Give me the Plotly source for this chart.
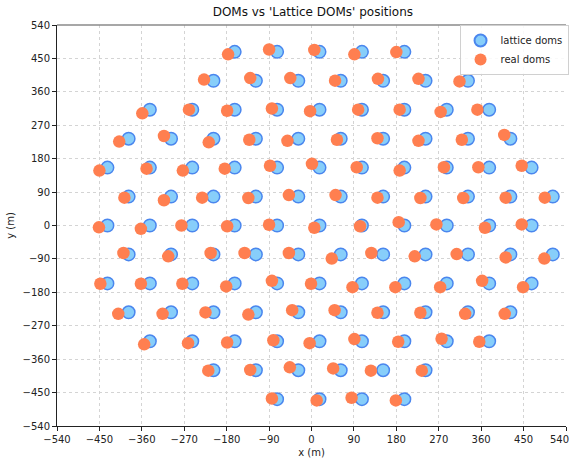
import plotly.graph_objects as go

# Lattice DOM positions, row by row (metres)
lattice_x = [
    -163, -73, 17, 107, 197,
    -208, -118, -28, 62, 152, 242, 332,
    -343, -253, -163, -73, 17, 107, 197, 287, 377,
    -388, -298, -208, -118, -28, 62, 152, 242, 332, 422,
    -433, -343, -253, -163, -73, 17, 107, 197, 287, 377, 467,
    -388, -298, -208, -118, -28, 62, 152, 242, 332, 422, 512,
    -433, -343, -253, -163, -73, 17, 107, 197, 287, 377, 467,
    -388, -298, -208, -118, -28, 62, 152, 242, 332, 422, 512,
    -433, -343, -253, -163, -73, 17, 107, 197, 287, 377, 467,
    -388, -298, -208, -118, -28, 62, 152, 242, 332, 422,
    -343, -253, -163, -73, 17, 107, 197, 287, 377,
    -208, -118, -28, 62, 152, 242,
    -73, 17, 107, 197,
]
lattice_y = (
    [467.7] * 5 + [389.7] * 7 + [311.8] * 9 + [233.8] * 10 + [155.9] * 11
    + [77.9] * 11 + [0.0] * 11 + [-77.9] * 11 + [-155.9] * 11
    + [-233.8] * 10 + [-311.8] * 9 + [-389.7] * 6 + [-467.7] * 4
)

# Measured (real) DOM positions, same row order
real_x = [
    -177, -90, 6, 91, 180,
    -228, -130, -45, 50, 141, 227, 314,
    -359, -260, -179, -84, -3, 99, 187, 274, 352,
    -408, -313, -218, -132, -51, 54, 140, 227, 319, 409,
    -450, -350, -273, -184, -88, 1, 96, 187, 281, 354, 446,
    -397, -313, -232, -134, -48, 51, 140, 231, 322, 412, 495,
    -451, -362, -276, -179, -90, 6, 103, 185, 265, 368, 446,
    -399, -304, -214, -142, -48, 43, 127, 219, 308, 412, 494,
    -448, -362, -274, -181, -84, -1, 87, 178, 273, 362, 449,
    -410, -316, -225, -134, -41, 49, 140, 231, 326, 410,
    -355, -262, -179, -81, -4, 91, 184, 276, 356,
    -219, -130, -46, 46, 126, 234,
    -84, 11, 85, 179,
]
real_y = [
    461, 474, 473, 461, 467,
    393, 397, 397, 390, 395, 395, 388,
    302, 312, 309, 315, 308, 312, 312, 306, 312,
    226, 241, 224, 231, 228, 231, 235, 228, 231, 244,
    148, 153, 148, 153, 161, 166, 157, 148, 157, 157, 161,
    75, 68, 75, 74, 82, 82, 75, 74, 74, 75, 75,
    -5, -9, 0, -2, 2, -6, -2, 9, 3, -6, 3,
    -74, -83, -74, -74, -74, -89, -74, -83, -77, -86, -89,
    -157, -157, -157, -164, -149, -157, -166, -166, -166, -149, -166,
    -238, -238, -234, -240, -228, -228, -235, -235, -238, -238,
    -320, -317, -315, -309, -317, -306, -313, -305, -313,
    -391, -389, -382, -385, -391, -391,
    -466, -471, -464, -471,
]

tick_vals = [-540, -450, -360, -270, -180, -90, 0, 90, 180, 270, 360, 450, 540]
tick_text = [str(v).replace("-", "\u2212") for v in tick_vals]

FONT = "DejaVu Sans"
TXT = "#222222"

fig = go.Figure()
fig.add_trace(go.Scatter(
    x=lattice_x, y=lattice_y, mode="markers", name="lattice doms",
    marker=dict(size=12.5, color="#87CEFA", line=dict(color="#4a86ee", width=1.5)),
))
fig.add_trace(go.Scatter(
    x=real_x, y=real_y, mode="markers", name="real doms",
    marker=dict(size=12.5, color="#FF7F50", line=dict(width=0)),
))

axis_common = dict(
    range=[-540, 540],
    tickvals=tick_vals,
    ticktext=tick_text,
    showgrid=True, gridcolor="#d4d4d4", griddash="dot", gridwidth=0.8,
    zeroline=False,
    showline=True, linecolor=TXT, linewidth=1,
    ticks="outside", ticklen=4, tickcolor=TXT,
    tickfont=dict(family=FONT, size=10, color=TXT),
)

fig.update_layout(
    width=574, height=461,
    margin=dict(l=57, r=5, t=25, b=30),
    paper_bgcolor="white", plot_bgcolor="white",
    font=dict(family=FONT, color=TXT),
    title=dict(text="DOMs vs 'Lattice DOMs' positions", x=0.545, xanchor="center",
               y=0.975, yanchor="middle", font=dict(family=FONT, size=12, color="#111111")),
    xaxis=dict(axis_common, title=dict(text="x (m)", font=dict(size=10), standoff=4)),
    yaxis=dict(axis_common, title=dict(text="y (m)", font=dict(size=10), standoff=6)),
    legend=dict(x=1.005, y=1.0, xanchor="right", yanchor="top",
                bgcolor="rgba(255,255,255,0.85)", bordercolor="#d0d0d0", borderwidth=1,
                font=dict(family=FONT, size=10, color=TXT),
                itemsizing="constant", tracegroupgap=0),
    showlegend=True,
)

# Light top frame line
fig.add_shape(type="line", xref="paper", yref="paper", x0=0, x1=1, y0=1, y1=1,
              line=dict(color="#8a8a8a", width=1.5))

# Last x tick label sits at the page edge; drawn explicitly and nudged inside
fig.update_xaxes(ticktext=tick_text[:-1] + [""])
fig.add_annotation(x=540, xref="x", y=0, yref="paper", yshift=-6, xshift=-7,
                   text=tick_text[-1], showarrow=False, xanchor="center", yanchor="top",
                   font=dict(family=FONT, size=10, color=TXT))

fig.write_html("out.html")
